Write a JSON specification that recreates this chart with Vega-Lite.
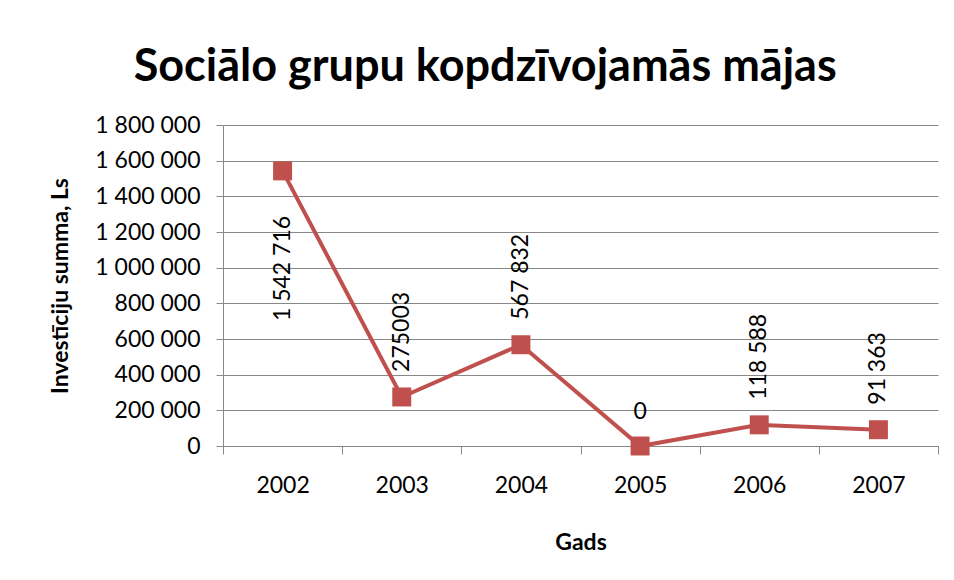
{
  "$schema": "https://vega.github.io/schema/vega-lite/v6.json",
  "width": 715,
  "height": 321,
  "autosize": "none",
  "padding": {"left": 223, "top": 125, "right": 16, "bottom": 134},
  "background": "white",
  "config": {
    "font": "Lato",
    "view": {"stroke": null}
  },
  "title": {
    "text": "Sociālo grupu kopdzīvojamās mājas",
    "font": "Lato",
    "fontSize": 45,
    "fontWeight": "bold",
    "color": "#000000",
    "anchor": "middle",
    "frame": "bounds",
    "offset": 24,
    "dx": -9
  },
  "data": {
    "values": [
      {"Gads": "2002", "Summa": 1542716, "label": "1 542 716", "pos": "below"},
      {"Gads": "2003", "Summa": 275003, "label": "275003", "pos": "above"},
      {"Gads": "2004", "Summa": 567832, "label": "567 832", "pos": "above"},
      {"Gads": "2005", "Summa": 0, "label": "0", "pos": "flat"},
      {"Gads": "2006", "Summa": 118588, "label": "118 588", "pos": "above"},
      {"Gads": "2007", "Summa": 91363, "label": "91 363", "pos": "above"}
    ]
  },
  "encoding": {
    "x": {
      "field": "Gads",
      "type": "ordinal",
      "scale": {"type": "band", "paddingInner": 0, "paddingOuter": 0},
      "axis": {
        "title": "Gads",
        "titleFont": "Lato",
        "titleFontSize": 23,
        "titleFontWeight": "bold",
        "titleColor": "#000000",
        "titlePadding": 34,
        "labelAngle": 0,
        "labelFont": "Lato",
        "labelFontSize": 23,
        "labelColor": "#000000",
        "labelPadding": 20,
        "tickBand": "extent",
        "tickSize": 8,
        "tickColor": "#888888",
        "domainColor": "#888888",
        "grid": false
      }
    },
    "y": {
      "field": "Summa",
      "type": "quantitative",
      "scale": {"domain": [0, 1800000], "nice": false},
      "axis": {
        "title": "Investīciju summa, Ls",
        "titleFont": "Lato",
        "titleFontSize": 23,
        "titleFontWeight": "bold",
        "titleColor": "#000000",
        "titlePadding": 22,
        "values": [0, 200000, 400000, 600000, 800000, 1000000, 1200000, 1400000, 1600000, 1800000],
        "labelExpr": "replace(format(datum.value, ','), regexp(',', 'g'), ' ')",
        "labelFont": "Lato",
        "labelFontSize": 23,
        "labelColor": "#000000",
        "labelPadding": 16,
        "tickSize": 7,
        "tickColor": "#888888",
        "domainColor": "#888888",
        "grid": true,
        "gridColor": "#888888",
        "gridWidth": 1
      }
    }
  },
  "layer": [
    {
      "mark": {"type": "line", "color": "#C0504D", "strokeWidth": 4}
    },
    {
      "mark": {"type": "square", "color": "#C0504D", "filled": true, "opacity": 1, "size": 360}
    },
    {
      "transform": [{"filter": "datum.pos == 'above'"}],
      "mark": {"type": "text", "angle": 270, "align": "left", "baseline": "middle", "dx": 25, "font": "Lato", "fontSize": 23, "color": "#000000"},
      "encoding": {"text": {"field": "label"}}
    },
    {
      "transform": [{"filter": "datum.pos == 'below'"}],
      "mark": {"type": "text", "angle": 270, "align": "right", "baseline": "middle", "dx": -45, "font": "Lato", "fontSize": 23, "color": "#000000"},
      "encoding": {"text": {"field": "label"}}
    },
    {
      "transform": [{"filter": "datum.pos == 'flat'"}],
      "mark": {"type": "text", "align": "center", "baseline": "alphabetic", "dy": -27, "font": "Lato", "fontSize": 23, "color": "#000000"},
      "encoding": {"text": {"field": "label"}}
    }
  ]
}
